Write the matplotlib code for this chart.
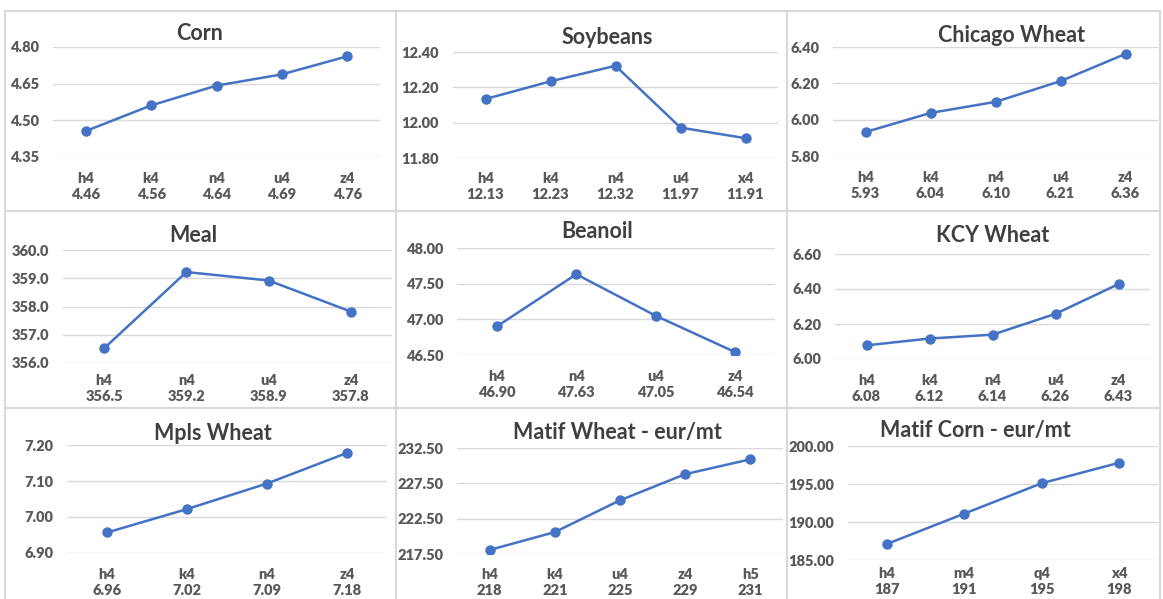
import matplotlib
matplotlib.use('Agg')
import matplotlib.pyplot as plt
from matplotlib.patches import Rectangle
import numpy as np

plt.rcParams['font.family'] = ['Lato', 'DejaVu Sans']
plt.rcParams['font.weight'] = 'bold'

# data
titles = ['Corn', 'Soybeans', 'Chicago Wheat',
          'Meal', 'Beanoil', 'KCY Wheat',
          'Mpls Wheat', 'Matif Wheat - eur/mt', 'Matif Corn - eur/mt']

corn_months = ['h4', 'k4', 'n4', 'u4', 'z4']
corn_prices = [4.456, 4.561, 4.642, 4.688, 4.762]

soy_months = ['h4', 'k4', 'n4', 'u4', 'x4']
soy_prices = [12.134, 12.234, 12.322, 11.972, 11.912]

chi_months = ['h4', 'k4', 'n4', 'u4', 'z4']
chi_prices = [5.932, 6.037, 6.098, 6.212, 6.362]

meal_months = ['h4', 'n4', 'u4', 'z4']
meal_prices = [356.52, 359.22, 358.92, 357.82]

oil_months = ['h4', 'n4', 'u4', 'z4']
oil_prices = [46.90, 47.632, 47.05, 46.54]

kcy_months = ['h4', 'k4', 'n4', 'u4', 'z4']
kcy_prices = [6.078, 6.117, 6.139, 6.258, 6.428]

mpls_months = ['h4', 'k4', 'n4', 'z4']
mpls_prices = [6.957, 7.022, 7.093, 7.178]

mwheat_months = ['h4', 'k4', 'u4', 'z4', 'h5']
mwheat_prices = [218.07, 220.6, 225.1, 228.8, 230.9]

mcorn_months = ['h4', 'm4', 'q4', 'x4']
mcorn_prices = [187.1, 191.1, 195.1, 197.8]

months = [corn_months, soy_months, chi_months, meal_months, oil_months,
          kcy_months, mpls_months, mwheat_months, mcorn_months]
prices = [corn_prices, soy_prices, chi_prices, meal_prices, oil_prices,
          kcy_prices, mpls_prices, mwheat_prices, mcorn_prices]
decimals = [2, 2, 2, 1, 2, 2, 2, 0, 0]
tick_dec = [2, 2, 2, 1, 2, 2, 2, 2, 2]
y_ranges = [(4.35, 4.80, 0.15), (11.80, 12.40, 0.20), (5.80, 6.40, 0.20),
            (356.0, 360.0, 1.0), (46.50, 48.00, 0.50), (6.00, 6.60, 0.20),
            (6.90, 7.20, 0.10), (217.5, 232.5, 5.0), (185.0, 200.0, 5.0)]

# layout in pixels
W, H = 1163, 599
panel_x = [5, 396, 787, 1160]
panel_y = [11, 211, 408, 605]
plot_rects = [(53, 47, 380, 157), (453, 52, 778, 158), (833, 47, 1158, 156),
              (63, 250, 392, 363), (457, 248, 775, 355), (835, 254, 1150, 359),
              (67, 445, 387, 553), (457, 448, 783, 554), (848, 446, 1158, 560)]
x_pads = [11, 10, 11, 8, 11, 11, 11, 10, 5]
title_pos = [(200, 34), (607, 37), (1012, 35),
             (193, 236), (597, 232), (993, 235),
             (213, 433), (617, 432), (975, 431)]

blue = '#4472C4'
grey = '#595959'

fig = plt.figure(figsize=(11.63, 5.99), dpi=100)

# panel borders
for r in range(3):
    for c in range(3):
        x0, x1 = panel_x[c], panel_x[c + 1]
        y0, y1 = panel_y[r], panel_y[r + 1]
        fig.patches.append(Rectangle((x0 / W, 1 - y1 / H), (x1 - x0) / W, (y1 - y0) / H,
                                     transform=fig.transFigure, fill=False,
                                     edgecolor='#D9D9D9', linewidth=1.5))

for i in range(9):
    x0, y0, x1, y1 = plot_rects[i]
    ax = fig.add_axes([x0 / W, 1 - y1 / H, (x1 - x0) / W, (y1 - y0) / H])
    n = len(months[i])
    xs = np.arange(n)
    ax.plot(xs, prices[i], color=blue, linewidth=1.8, marker='o',
            markersize=6.5, zorder=3)
    lo, hi, step = y_ranges[i]
    ax.set_ylim(lo, hi)
    ax.set_xlim(-0.5, n - 0.5)
    ticks = np.arange(lo, hi + step / 2, step)
    ax.set_yticks(ticks)
    ax.set_yticklabels([f'{t:.{tick_dec[i]}f}' for t in ticks], fontweight='heavy')
    ax.set_xticks(xs)
    ax.set_xticklabels([f'{m}\n{p:.{decimals[i]}f}' for m, p in zip(months[i], prices[i])],
                       linespacing=1.25, fontweight='heavy')
    ax.grid(axis='y', color='#D9D9D9', linewidth=1)
    ax.set_axisbelow(True)
    for s in ax.spines.values():
        s.set_visible(False)
    ax.tick_params(axis='both', length=0, colors=grey, labelsize=10.5)
    ax.tick_params(axis='y', pad=10)
    ax.tick_params(axis='x', pad=x_pads[i])
    ax.patch.set_alpha(0)
    tx, ty = title_pos[i]
    fig.text(tx / W, 1 - ty / H, titles[i], ha='center', va='center',
             fontsize=15.5, fontweight='bold', color='#404040')

plt.savefig('out.png', dpi=100)
